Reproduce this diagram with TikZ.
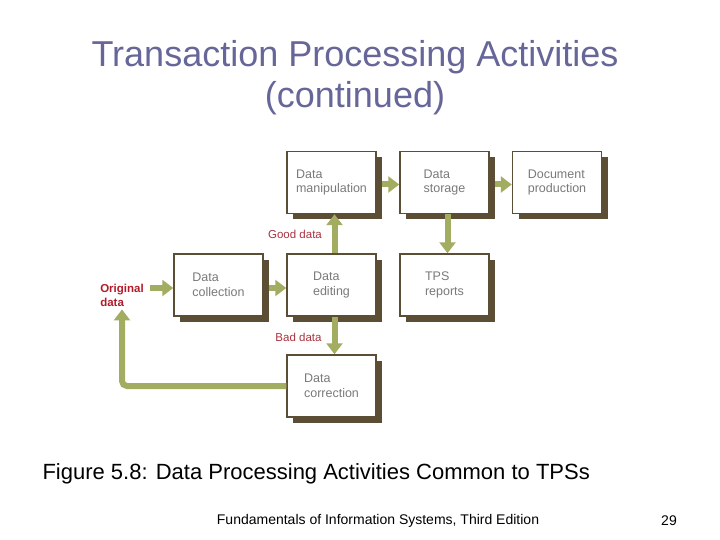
\documentclass[tikz,border=0pt]{standalone}
\usepackage{fontspec}
\setmainfont{Liberation Sans}
\usepackage{tikz}
\usetikzlibrary{arrows.meta,shadows}
\definecolor{TitleBlue}{HTML}{666699}
\definecolor{BoxBrown}{HTML}{5C4E34}
\definecolor{ArrowGreen}{HTML}{A3AD62}
\definecolor{LabelRed}{HTML}{A8323F}
\definecolor{OrigRed}{HTML}{B01C2A}
\definecolor{BoxText}{HTML}{7A7A7A}

\begin{document}
\begin{tikzpicture}[x=1pt,y=-1pt]

    \tikzset{BX/.style={draw=BoxBrown,line width=1.5pt,fill=white,minimum width=89pt,minimum height=62pt,align=left,text=BoxText,font=\fontsize{12.5}{14.5}\selectfont,drop shadow={shadow xshift=6pt,shadow yshift=-6pt,fill=BoxBrown,opacity=1}}}
    \tikzset{AR/.style={draw=ArrowGreen,line width=6pt,-{Triangle[length=11pt,width=16pt]}}}
    \tikzset{LB/.style={text=LabelRed,font=\fontsize{11.5}{14}\selectfont,inner sep=0pt}}

    \useasboundingbox (0,0) rectangle (720,540);

    \node (title) [align=center,text=TitleBlue,font=\fontsize{36}{41}\selectfont] at (355, 78) {Transaction Processing Activities\\(continued)};

    \node (manip) [BX] at (331.5, 182.5) {Data\\manipulation};
    \node (store) [BX] at (444.5, 182.5) {Data\\storage};
    \node (docprod) [BX] at (557, 182.5) {Document\\production};
    \node (collect) [BX] at (218.5, 285) {Data\\collection};
    \node (edit) [BX] at (331.5, 285) {Data\\editing};
    \node (tps) [BX] at (444.5, 285) {TPS\\reports};
    \node (correct) [BX] at (331.5, 386) {Data\\correction};

    \node (orig) [LB,align=left,text=OrigRed,font=\fontsize{11.5}{14}\selectfont\bfseries] at (122, 295) {Original\\data};
    \node (good) [LB] at (295, 234) {Good data};
    \node (bad) [LB] at (298.5, 337) {Bad data};

    \draw[AR,shorten <=6pt] ([yshift=-3pt]orig.east |- collect.west) -- ([yshift=-3pt]collect.west);
    \draw[AR,shorten <=5pt] ([yshift=-3pt]collect.east) -- ([yshift=-3pt]edit.west);
    \draw[AR] ([xshift=3pt]edit.north) -- ([xshift=3pt]manip.south);
    \draw[AR,shorten <=5pt] ([yshift=-2pt]manip.east) -- ([yshift=-2pt]store.west);
    \draw[AR,shorten <=5pt] ([yshift=-2pt]store.east) -- ([yshift=-2pt]docprod.west);
    \draw[AR] ([xshift=3pt]store.south) -- ([xshift=3pt]tps.north);
    \draw[AR] ([xshift=3pt]edit.south) -- ([xshift=3pt]correct.north);
    \draw[AR,rounded corners=5pt,shorten >=3pt] (correct.west) -| (orig.south);

    \node (caption) [anchor=west,font=\fontsize{22}{24}\selectfont] at (39, 474) {Figure 5.8: Data Processing Activities Common to TPSs};
    \node (footer) [font=\fontsize{14}{16}\selectfont] at (378, 521) {Fundamentals of Information Systems, Third Edition};
    \node (page) [font=\fontsize{14}{16}\selectfont] at (669, 521) {29};
\end{tikzpicture}
\end{document}
